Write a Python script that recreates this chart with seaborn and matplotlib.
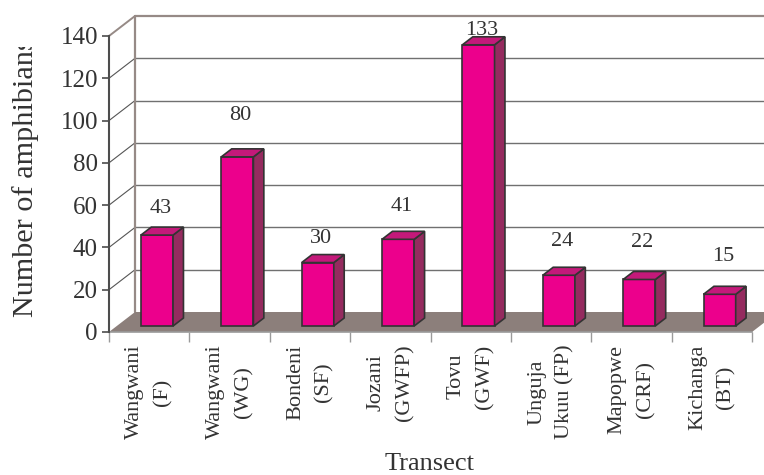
import numpy as np
import pandas as pd
import matplotlib
matplotlib.use("Agg")
import matplotlib.pyplot as plt
import seaborn as sns
from matplotlib.patches import Polygon
from matplotlib.transforms import Bbox, TransformedBbox

# ---- data -------------------------------------------------------------
transects = ["Wangwani\n(F)", "Wangwani\n(WG)", "Bondeni\n(SF)", "Jozani\n(GWFP)",
             "Tovu\n(GWF)", "Unguja\nUkuu (FP)", "Mapopwe\n(CRF)", "Kichanga\n(BT)"]
amphibians = [43, 80, 30, 41, 133, 24, 22, 15]
y_ticks = [0, 20, 40, 60, 80, 100, 120, 140]

# how far (px) each value label sits above the front top edge of its bar
label_lift = [27, 41, 24, 33, 14, 34, 37, 38]

# ---- styling ----------------------------------------------------------
FRONT = "#EC008C"
TOP = "#C4197A"
SIDE = "#952B5F"
EDGE = "#333333"
FLOOR = "#8C7F7B"
WALL = "#968A86"
GRID = "#707070"
TEXT = "#333333"

sns.set_style("white")
plt.rcParams["font.family"] = ["Liberation Serif", "DejaVu Serif"]

FIG_W, FIG_H, DPI = 764, 475, 100
# front plane of the plot in pixels (left, right, bottom, top measured from top)
PL, PR, PB, PT = 109, 752, 332, 36
DEPTH_X, DEPTH_Y = 26, 20          # oblique depth of the floor / walls in px

fig = plt.figure(figsize=(FIG_W / DPI, FIG_H / DPI), dpi=DPI)
ax = fig.add_axes([PL / FIG_W, 1 - PB / FIG_H, (PR - PL) / FIG_W, (PB - PT) / FIG_H])

n = len(transects)
ymax = y_ticks[-1]
ux = n / (PR - PL)        # data units per pixel (x)
uy = ymax / (PB - PT)     # data units per pixel (y)


def depth(f):
    """Offset in data units for a fraction f of the floor depth."""
    return f * DEPTH_X * ux, f * DEPTH_Y * uy


df = pd.DataFrame({"Transect": transects, "Amphibians": amphibians})
sns.barplot(data=df, x="Transect", y="Amphibians", color=FRONT, saturation=1,
            width=0.4, edgecolor=EDGE, linewidth=1.2, ax=ax, zorder=5)
bars = list(ax.patches)

ax.set_xlim(-0.5, n - 0.5)
ax.set_ylim(0, ymax)

# ---- walls and floor --------------------------------------------------
bx, by = depth(1.0)
x0, x1 = -0.5, n - 0.5

floor = Polygon([(x0, 0), (x1, 0), (x1 + bx, by), (x0 + bx, by)], closed=True,
                facecolor=FLOOR, edgecolor="none", zorder=1, clip_on=False)
ax.add_patch(floor)

for v in y_ticks[1:]:
    col, lw = (WALL, 1.6) if v == ymax else (GRID, 1.0)
    ax.add_line(plt.Line2D([x0 + bx, x1 + bx + 1], [v + by, v + by], color=col, lw=lw,
                           zorder=0.5, clip_on=False))
    ax.add_line(plt.Line2D([x0, x0 + bx], [v, v + by], color=WALL if v == ymax else "#555555",
                           lw=1.4 if v == ymax else 0.8, zorder=0.6, clip_on=False))
ax.add_line(plt.Line2D([x0 + bx, x0 + bx], [by, ymax + by], color=WALL, lw=1.6,
                       zorder=0.6, clip_on=False))

# ---- 3-D bars: shift the front faces and add side and top faces -------
fx, fy = depth(0.30)
kx, ky = depth(0.70)
for p in bars:
    xl = p.get_x() + fx
    w = p.get_width()
    h = p.get_height()
    p.set_x(xl)
    p.set_y(fy)
    p.set_clip_on(False)
    xr = xl + w
    top_y = fy + h
    side = Polygon([(xr, fy), (xr, top_y), (xr + kx - fx, top_y + ky - fy),
                    (xr + kx - fx, ky)], closed=True, facecolor=SIDE,
                   edgecolor=EDGE, lw=1.2, zorder=5, clip_on=False)
    top = Polygon([(xl, top_y), (xr, top_y), (xr + kx - fx, top_y + ky - fy),
                   (xl + kx - fx, top_y + ky - fy)], closed=True, facecolor=TOP,
                  edgecolor=EDGE, lw=1.2, zorder=5, clip_on=False)
    ax.add_patch(side)
    ax.add_patch(top)

# value labels
for i, (v, lift) in enumerate(zip(amphibians, label_lift)):
    ax.text(i + 11 * ux, v + fy + lift * uy, f"{v}", ha="center", va="center",
            fontsize=16, color=TEXT, zorder=10, clip_on=False)

# ---- axes -------------------------------------------------------------
for s in ["top", "right"]:
    ax.spines[s].set_visible(False)
ax.spines["left"].set_color("#4d4d4d")
ax.spines["left"].set_linewidth(1.5)
ax.spines["bottom"].set_color("#9a9a9a")
ax.spines["bottom"].set_linewidth(1.2)
ax.spines["left"].set_zorder(6)

ax.set_yticks(y_ticks)
ax.tick_params(axis="y", direction="out", length=5, width=1.2, color="#4d4d4d",
               pad=3, labelsize=18, labelcolor=TEXT, left=True)

ax.set_xticks(np.arange(-0.5, n, 1.0))
ax.set_xticklabels([])
ax.tick_params(axis="x", which="major", direction="out", length=7, width=1.0,
               color="#9a9a9a", bottom=True)
ax.set_xticks(np.arange(n), transects, minor=True)
ax.tick_params(axis="x", which="minor", length=0, pad=9, labelsize=16,
               labelcolor=TEXT)
for lbl in ax.get_xticklabels(minor=True):
    lbl.set_rotation(90)
    lbl.set_va("top")
    lbl.set_ha("center")
    lbl.set_multialignment("center")
    lbl.set_linespacing(1.65)

ax.set_xlabel("")
ax.set_ylabel("")

ylab = fig.text(33 / FIG_W, 1 - 317 / FIG_H, "Number of amphibians", rotation=90,
                rotation_mode="anchor", ha="left", va="baseline", fontsize=21.8,
                color=TEXT)
ylab.set_clip_box(TransformedBbox(Bbox([[0, 0], [1, 1 - 47 / FIG_H]]), fig.transFigure))
ylab.set_clip_on(True)

fig.text(430 / FIG_W, 5 / FIG_H, "Transect", ha="center", va="baseline",
         fontsize=19, color=TEXT)

fig.savefig("out.png", dpi=DPI)
